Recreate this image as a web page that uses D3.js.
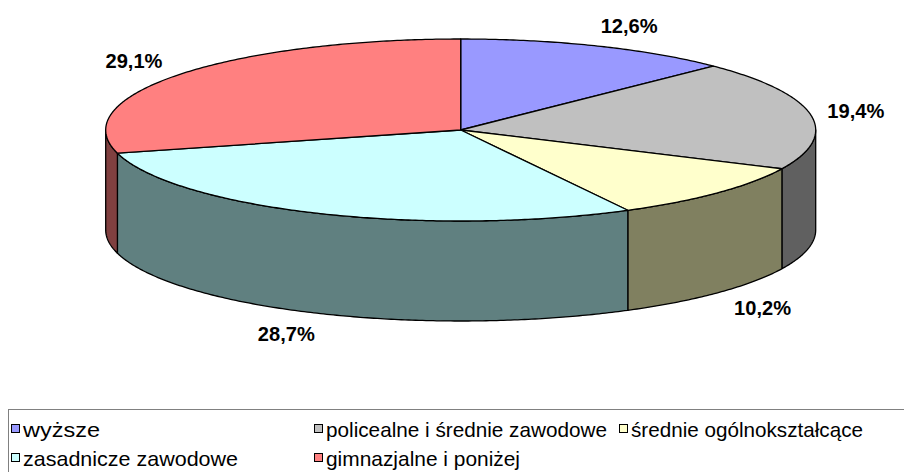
<!DOCTYPE html>
<html>
<head>
<meta charset="utf-8">
<script src="https://cdn.jsdelivr.net/npm/d3@7"></script>
<style>
html,body{margin:0;padding:0;background:#fff;}
svg{display:block;}
</style>
</head>
<body>
<svg id="chart" width="904" height="472"></svg>
<script>
// ---- data ----
const categories = ["wyższe", "policealne i średnie zawodowe", "średnie ogólnokształcące", "zasadnicze zawodowe", "gimnazjalne i poniżej"];
const values = [12.6, 19.4, 10.2, 28.7, 29.1];
const labels = ["12,6%", "19,4%", "10,2%", "28,7%", "29,1%"];
const topColors = ["#9999FF", "#C0C0C0", "#FFFFCC", "#CCFFFF", "#FF8080"];
const sideColors = ["#4D4D80", "#606060", "#808060", "#608080", "#804040"];

// ---- layout ----
const svg = d3.select("#chart");
const cx = 460.7, cy = 130, rx = 355, ry = 91, depth = 100;

const pie = d3.pie().sort(null).value(d => d)(values);
const px = a => cx + rx * Math.sin(a);
const py = a => cy - ry * Math.cos(a);

function arcPoints(a0, a1, dy) {
  const n = Math.max(2, Math.ceil(Math.abs(a1 - a0) / 0.01));
  const pts = [];
  for (let i = 0; i <= n; i++) {
    const a = a0 + (a1 - a0) * i / n;
    pts.push([px(a), py(a) + dy]);
  }
  return pts;
}

const g = svg.append("g");

// sides (front half only)
pie.forEach((d, i) => {
  const a0 = Math.max(d.startAngle, Math.PI / 2);
  const a1 = Math.min(d.endAngle, 3 * Math.PI / 2);
  if (a1 <= a0) return;
  const pts = arcPoints(a0, a1, 0).concat(arcPoints(a1, a0, depth));
  g.append("path")
    .attr("d", d3.line()(pts) + "Z")
    .attr("fill", sideColors[i])
    .attr("stroke", "#000")
    .attr("stroke-width", 1.3)
    .attr("stroke-linejoin", "round");
});

// top faces
pie.forEach((d, i) => {
  const pts = [[cx, cy]].concat(arcPoints(d.startAngle, d.endAngle, 0));
  g.append("path")
    .attr("d", d3.line()(pts) + "Z")
    .attr("fill", topColors[i])
    .attr("stroke", "#000")
    .attr("stroke-width", 1.3)
    .attr("stroke-linejoin", "round");
});

// percentage labels
pie.forEach((d, i) => {
  const m = (d.startAngle + d.endAngle) / 2;
  const s = Math.sin(m), c = Math.cos(m);
  const R = 460 - 60 * Math.abs(s);
  const x = cx + R * s;
  const y = cy - (ry + 22) * c + (c < 0 ? depth : 0);
  svg.append("text")
    .attr("x", x).attr("y", y)
    .attr("text-anchor", "middle")
    .attr("dominant-baseline", "central")
    .attr("font-family", "Liberation Sans, Arial, sans-serif")
    .attr("font-weight", "bold")
    .attr("font-size", 20)
    .attr("textLength", 57)
    .attr("lengthAdjust", "spacingAndGlyphs")
    .attr("fill", "#000")
    .text(labels[i]);
});

// legend
const lg = svg.append("g");
lg.append("rect")
  .attr("x", 8.5).attr("y", 409.5)
  .attr("width", 1000).attr("height", 200)
  .attr("fill", "#fff").attr("stroke", "#808080").attr("stroke-width", 1);

const legendCols = [11, 314, 619];
const legendRows = [429, 458];
const legendWidths = [77, 281, 232, 215, 194];
const legendPos = [[0,0],[1,0],[2,0],[0,1],[1,1]];
categories.forEach((name, i) => {
  const [col, row] = legendPos[i];
  const x = legendCols[col], y = legendRows[row];
  lg.append("rect")
    .attr("x", x + 0.5).attr("y", y - 4.5)
    .attr("width", 8).attr("height", 8)
    .attr("fill", topColors[i]).attr("stroke", "#000").attr("stroke-width", 1);
  lg.append("text")
    .attr("x", x + 12).attr("y", y)
    .attr("dominant-baseline", "central")
    .attr("font-family", "Liberation Sans, Arial, sans-serif")
    .attr("font-size", 21)
    .attr("textLength", legendWidths[i])
    .attr("lengthAdjust", "spacingAndGlyphs")
    .attr("fill", "#000")
    .text(name);
});
</script>
</body>
</html>
